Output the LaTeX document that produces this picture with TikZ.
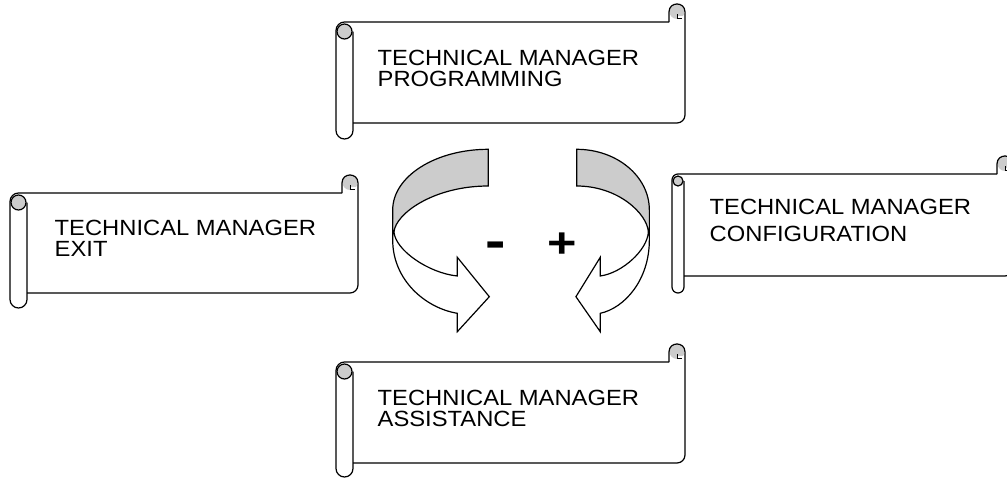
\documentclass[tikz,border=0pt]{standalone}
\usepackage{fontspec}
\usepackage{graphicx}
\setmainfont{Liberation Sans}
\newfontfamily\lblfont{Liberation Sans}[FakeStretch=1.08]
\definecolor{rollgrey}{gray}{0.8}
\tikzset{
  sline/.style={line width=1.2pt, black},
  lbl/.style={anchor=north west, inner sep=0pt, align=left, font=\lblfont\fontsize{22}{20.8}\selectfont},
  sign/.style={anchor=base, inner sep=0pt, font=\bfseries}
}
% #1 xl, #2 L (tube right), #3 T (top line), #4 B (bottom line), #5 R (right edge), #6 Bt (tube bottom)
\newcommand\scrollshape[6]{%
  \pgfmathsetmacro\sr{(#2-#1)/2}%
  % body: bottom line, rounded bottom-right corner, right edge
  \draw[sline] (#2,#4) [rounded corners=8pt] -- (#5,#4) -- (#5,{#3-10});
  % right curl
  \fill[rollgrey] ({#5-8},{#3-10.5}) circle (7.5);
  \fill[white] ({#5-7.5},{#3-6.5}) rectangle ({#5-1},{#3-1});
  \draw[sline] (#5,{#3-10}) .. controls (#5,{#3-20.7}) and ({#5-16},{#3-20.7}) .. ({#5-16},{#3-10}) -- ({#5-16},#3);
  \draw[sline, line width=0.8pt] ({#5-8},{#3-8}) -- ({#5-8},{#3-4}) -- ({#5-3},{#3-4});
  % top line and left tube
  \draw[sline] ({#5-16},#3) [rounded corners=\sr pt] -- (#1,#3) -- (#1,#6) -- (#2,#6) -- (#2,{#3+\sr+1});
  % left curl
  \draw[sline, fill=rollgrey] ({#1+\sr},{#3+\sr+1}) circle ({\sr-1});
}
\newcommand\ringarrow{%
  \fill[rollgrey] (0,149.3) .. controls (-52.7,149.3) and (-95.6,176.3) .. (-95.6,210)
     -- (-94.3,232) .. controls (-93,214) and (-55,186) .. (0,186) -- cycle;
  \draw[sline, line join=miter] (0,149.3) .. controls (-52.7,149.3) and (-95.6,176.3) .. (-95.6,210)
     -- (-95.6,240) .. controls (-95.6,280) and (-63,308) .. (-31,313.3)
     -- (-31,331.7) -- (1,296.7) -- (-31,257.3) -- (-31,276)
     .. controls (-60,273) and (-93,250) .. (-94.3,232)
     .. controls (-93,214) and (-55,186) .. (0,186) -- cycle;
}
\begin{document}
\begin{tikzpicture}[x=1pt, y=-1pt]
\useasboundingbox[fill=white] (0,0) rectangle (1007,479);
% scrolls
\scrollshape{336}{353}{22}{123}{685}{139}
\scrollshape{10}{27}{193}{293}{358}{308}
\scrollshape{672}{684}{174}{276}{1013}{293}
\scrollshape{336}{353}{362}{463}{685}{477}
% texts
\node[lbl] (prog) at (377.5,50) {TECHNICAL MANAGER\\PROGRAMMING};
\node[lbl] (exit) at (54.5,220) {TECHNICAL MANAGER\\EXIT};
\node[lbl, font=\lblfont\fontsize{22}{26.7}\selectfont] (config) at (709.5,199.2) {TECHNICAL MANAGER\\CONFIGURATION};
\node[lbl] (assist) at (377.5,390) {TECHNICAL MANAGER\\ASSISTANCE};
% ring arrows
\begin{scope}[shift={(488.3,0)}]
  \ringarrow
\end{scope}
\begin{scope}[shift={(576.7,0)}, xscale=-0.76]
  \ringarrow
\end{scope}
% signs
\node[sign, font=\bfseries\fontsize{52}{52}\selectfont] (minus) at (495.5,258.5) {\scalebox{1.18}[1]{-}};
\node[sign, font=\bfseries\fontsize{42}{42}\selectfont] (plus) at (562.5,257) {\scalebox{1.2}[1]{+}};
\end{tikzpicture}
\end{document}
